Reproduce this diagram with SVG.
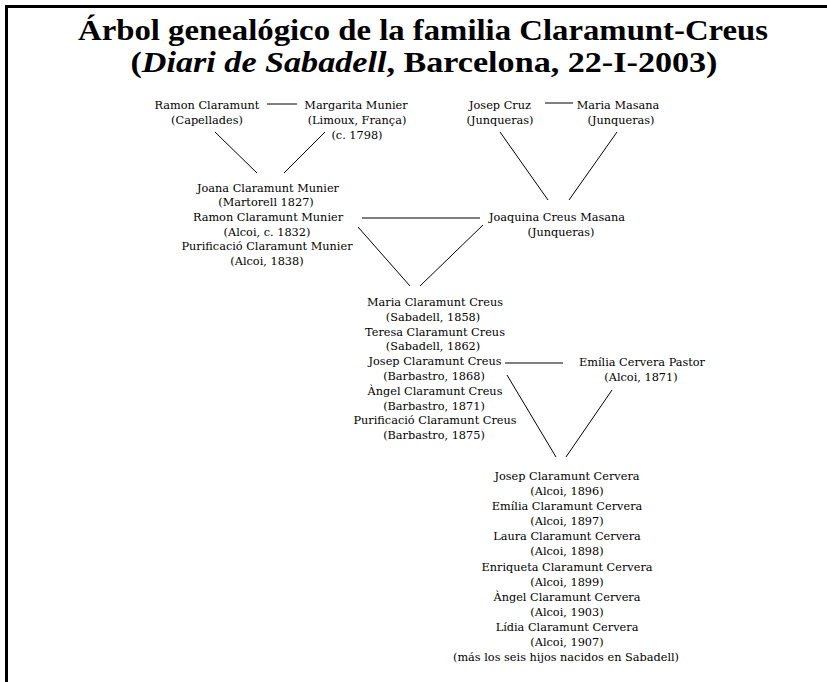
<svg xmlns="http://www.w3.org/2000/svg" width="827" height="682" viewBox="0 0 827 682">
<style>
.t{font-family:"DejaVu Serif","Liberation Serif",serif;font-size:11.3px;fill:#000;text-anchor:middle}
.h{font-family:"Liberation Serif",serif;font-weight:bold;font-size:29px;fill:#000;text-anchor:middle}
.c line{stroke:#000;stroke-width:1}
</style>
<rect width="827" height="682" fill="#fff"/>
<g id="frame" stroke="#000" stroke-width="3" fill="none">
<line x1="6.5" y1="5" x2="6.5" y2="682"/>
<line x1="5" y1="6.5" x2="827" y2="6.5"/>
</g>
<g id="title">
<text class="h" x="423" y="40" textLength="690" lengthAdjust="spacingAndGlyphs">Árbol genealógico de la familia Claramunt-Creus</text>
<text class="h" x="424" y="72" textLength="587" lengthAdjust="spacingAndGlyphs">(<tspan font-style="italic">Diari de Sabadell</tspan>, Barcelona, 22-I-2003)</text>
</g>
<g class="c" id="connectors">
<line x1="267" y1="104" x2="297" y2="104"/>
<line x1="545" y1="103" x2="573" y2="103"/>
<line x1="215" y1="132" x2="257" y2="173"/>
<line x1="325" y1="132" x2="284" y2="173"/>
<line x1="500" y1="132" x2="548" y2="200"/>
<line x1="617" y1="132" x2="569" y2="200"/>
<line x1="362" y1="218" x2="480" y2="218"/>
<line x1="358" y1="227" x2="410" y2="286"/>
<line x1="483" y1="225" x2="420" y2="286"/>
<line x1="505" y1="363" x2="563" y2="363"/>
<line x1="507" y1="375" x2="556" y2="457"/>
<line x1="612" y1="390" x2="566" y2="457"/>
</g>
<g id="ramon">
<text class="t" x="207" y="109">Ramon Claramunt</text>
<text class="t" x="207" y="124">(Capellades)</text>
</g>
<g id="margarita">
<text class="t" x="356" y="109">Margarita Munier</text>
<text class="t" x="357" y="124">(Limoux, França)</text>
<text class="t" x="357" y="139">(c. 1798)</text>
</g>
<g id="josepcruz">
<text class="t" x="500" y="109">Josep Cruz</text>
<text class="t" x="500" y="124">(Junqueras)</text>
</g>
<g id="mariamasana">
<text class="t" x="618" y="109">Maria Masana</text>
<text class="t" x="621" y="124">(Junqueras)</text>
</g>
<g id="claramuntmunier">
<text class="t" x="268" y="191.6">Joana Claramunt Munier</text>
<text class="t" x="266" y="206.3">(Martorell 1827)</text>
<text class="t" x="268" y="221">Ramon Claramunt Munier</text>
<text class="t" x="267" y="235.7">(Alcoi, c. 1832)</text>
<text class="t" x="267" y="250.4">Purificació Claramunt Munier</text>
<text class="t" x="267" y="265.1">(Alcoi, 1838)</text>
</g>
<g id="joaquina">
<text class="t" x="557" y="221">Joaquina Creus Masana</text>
<text class="t" x="561" y="236">(Junqueras)</text>
</g>
<g id="claramuntcreus">
<text class="t" x="435" y="306">Maria Claramunt Creus</text>
<text class="t" x="433" y="320.8">(Sabadell, 1858)</text>
<text class="t" x="435" y="335.6">Teresa Claramunt Creus</text>
<text class="t" x="433" y="350.4">(Sabadell, 1862)</text>
<text class="t" x="435" y="365.2">Josep Claramunt Creus</text>
<text class="t" x="434" y="380">(Barbastro, 1868)</text>
<text class="t" x="435" y="394.8">Àngel Claramunt Creus</text>
<text class="t" x="434" y="409.6">(Barbastro, 1871)</text>
<text class="t" x="435" y="424.4">Purificació Claramunt Creus</text>
<text class="t" x="434" y="439.2">(Barbastro, 1875)</text>
</g>
<g id="emilia">
<text class="t" x="642" y="366">Emília Cervera Pastor</text>
<text class="t" x="641" y="381">(Alcoi, 1871)</text>
</g>
<g id="claramuntcervera">
<text class="t" x="567" y="480">Josep Claramunt Cervera</text>
<text class="t" x="567" y="495.1">(Alcoi, 1896)</text>
<text class="t" x="567" y="510.2">Emília Claramunt Cervera</text>
<text class="t" x="567" y="525.2">(Alcoi, 1897)</text>
<text class="t" x="567" y="540.3">Laura Claramunt Cervera</text>
<text class="t" x="567" y="555.4">(Alcoi, 1898)</text>
<text class="t" x="567" y="570.5">Enriqueta Claramunt Cervera</text>
<text class="t" x="567" y="585.6">(Alcoi, 1899)</text>
<text class="t" x="567" y="600.6">Àngel Claramunt Cervera</text>
<text class="t" x="567" y="615.7">(Alcoi, 1903)</text>
<text class="t" x="567" y="630.8">Lídia Claramunt Cervera</text>
<text class="t" x="567" y="645.9">(Alcoi, 1907)</text>
<text class="t" x="566" y="661">(más los seis hijos nacidos en Sabadell)</text>
</g>
</svg>
